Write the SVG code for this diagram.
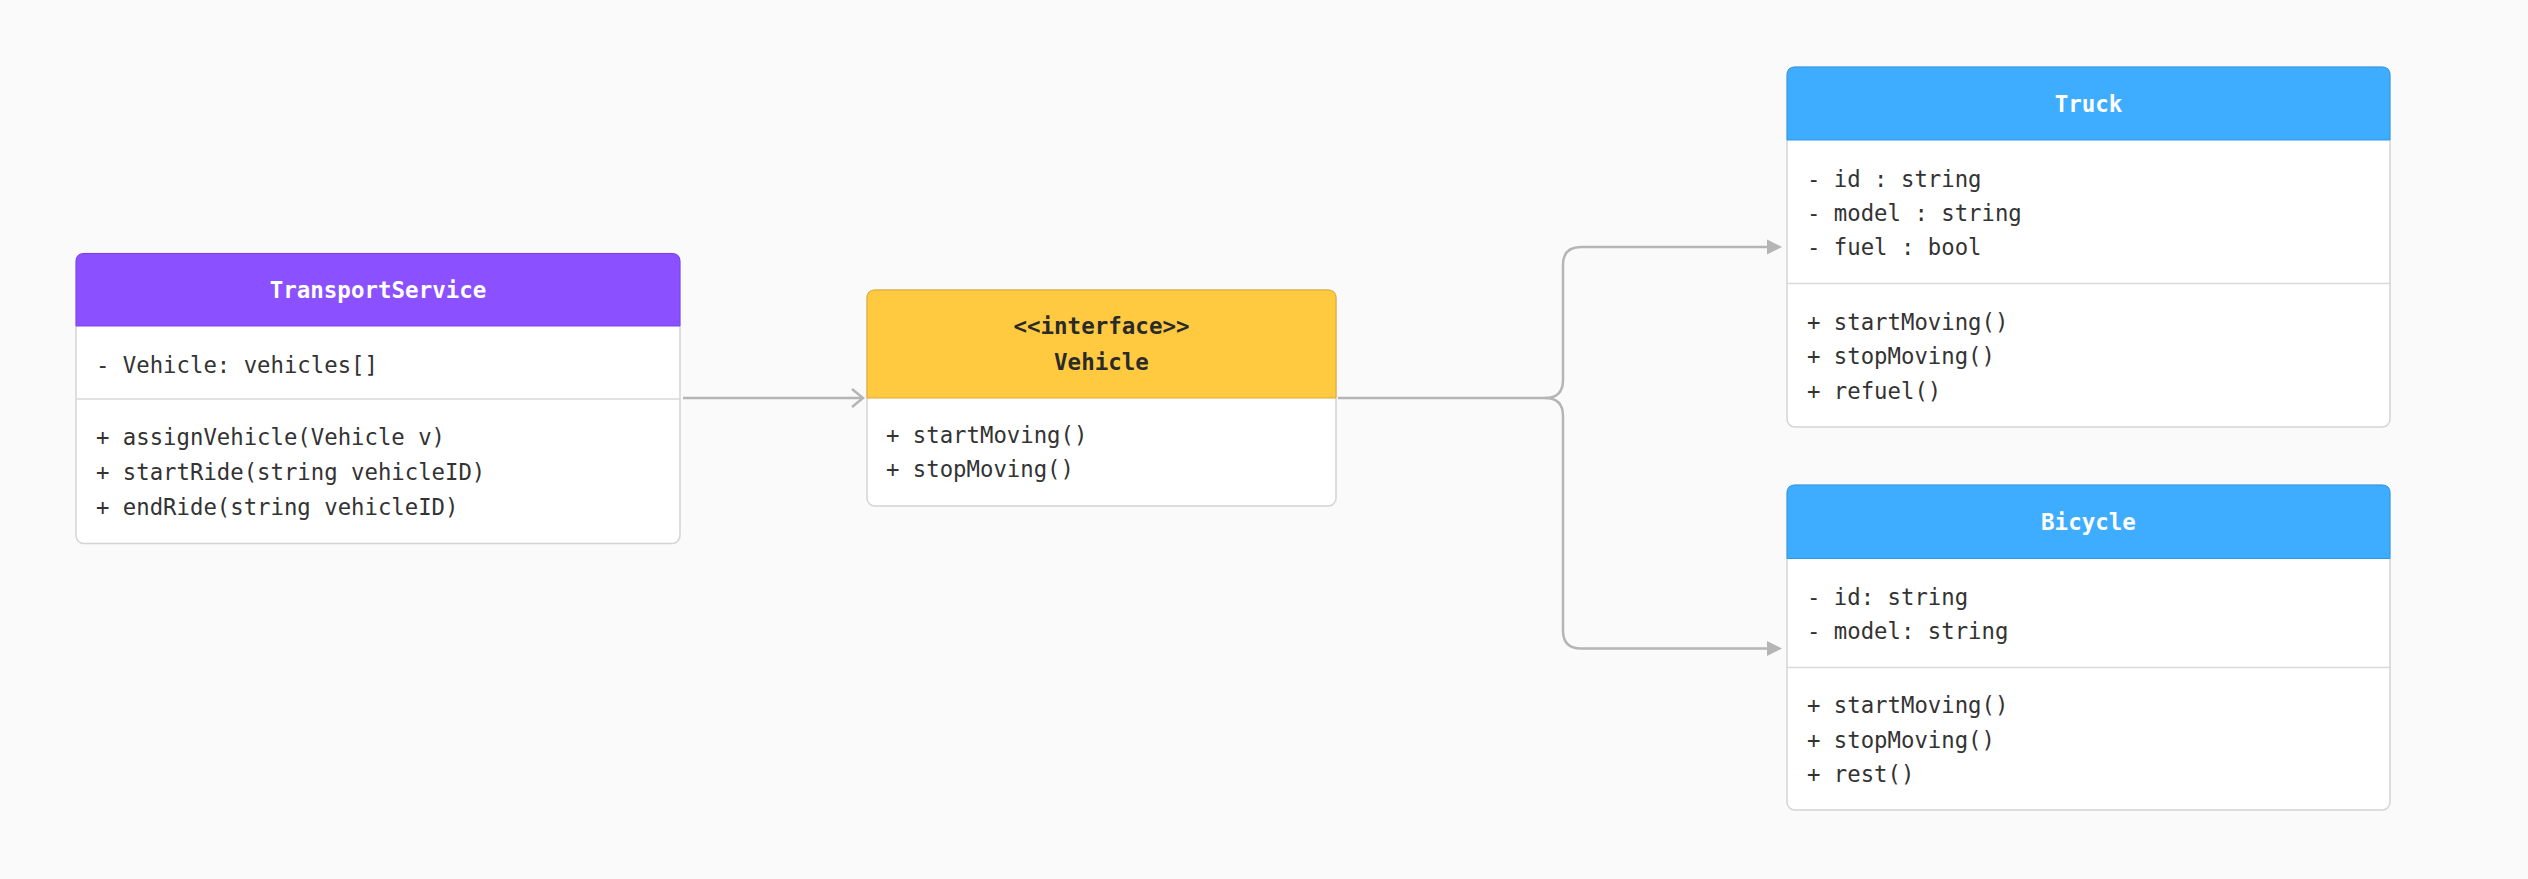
<svg xmlns="http://www.w3.org/2000/svg" width="2528" height="879" viewBox="0 0 2528 879">
  <defs>
    <style>
      .box { fill: #ffffff; stroke: #d4d4d4; stroke-width: 1.5; }
      .div { stroke: #d9d9d9; stroke-width: 1.5; }
      .hdr-purple { fill: #8b50ff; stroke: #7a40ee; stroke-width: 1; }
      .hdr-blue { fill: #3fadff; stroke: #2f97e8; stroke-width: 1; }
      .hdr-yellow { fill: #ffc940; stroke: #e0a730; stroke-width: 1; }
      .title { font-family: "DejaVu Sans Mono", "Liberation Mono", monospace; font-size: 22.5px; font-weight: bold; text-anchor: middle; }
      .light { fill: #ffffff; }
      .dark { fill: #2a2a2a; }
      .txt { font-family: "DejaVu Sans Mono", "Liberation Mono", monospace; font-size: 22.3px; fill: #333333; }
      .conn { fill: none; stroke: #b5b5b5; stroke-width: 2.5; }
    </style>
    <marker id="open" markerUnits="userSpaceOnUse" markerWidth="20" markerHeight="24" refX="12" refY="10" orient="auto" overflow="visible">
      <polyline points="1,1 12,10 1,19" fill="none" stroke="#b5b5b5" stroke-width="2.5"/>
    </marker>
    <marker id="filled" markerUnits="userSpaceOnUse" markerWidth="16" markerHeight="16" refX="0" refY="8" orient="auto" overflow="visible">
      <polygon points="0,0.5 15,8 0,15.5" fill="#b5b5b5"/>
    </marker>
  </defs>
  <rect width="2528" height="879" fill="#fafafa"/>

  <g id="connectors">
    <path class="conn" d="M683 398 H863" marker-end="url(#open)"/>
    <path class="conn" d="M1338 398 H1545 Q1563 398 1563 380 V265 Q1563 247 1581 247 H1767" marker-end="url(#filled)"/>
    <path class="conn" d="M1545 398 Q1563 398 1563 416 V630.5 Q1563 648.5 1581 648.5 H1767" marker-end="url(#filled)"/>
  </g>

  <g id="TransportService">
    <rect class="box" x="76" y="253.5" width="604" height="290" rx="8"/>
    <path class="hdr-purple" d="M76 326 V261.5 Q76 253.5 84 253.5 H672 Q680 253.5 680 261.5 V326 Z"/>
    <text class="title light" x="378" y="298">TransportService</text>
    <text class="txt" x="96" y="373">- Vehicle: vehicles[]</text>
    <line class="div" x1="76" y1="399" x2="680" y2="399"/>
    <text class="txt" x="96" y="445">+ assignVehicle(Vehicle v)</text>
    <text class="txt" x="96" y="480">+ startRide(string vehicleID)</text>
    <text class="txt" x="96" y="515">+ endRide(string vehicleID)</text>
  </g>

  <g id="Vehicle">
    <rect class="box" x="867" y="290" width="469" height="216" rx="8"/>
    <path class="hdr-yellow" d="M867 398 V298 Q867 290 875 290 H1328 Q1336 290 1336 298 V398 Z"/>
    <text class="title dark" x="1101.5" y="334">&lt;&lt;interface&gt;&gt;</text>
    <text class="title dark" x="1101.5" y="370">Vehicle</text>
    <text class="txt" x="886" y="443">+ startMoving()</text>
    <text class="txt" x="886" y="477">+ stopMoving()</text>
  </g>

  <g id="Truck">
    <rect class="box" x="1787" y="67" width="603" height="360" rx="8"/>
    <path class="hdr-blue" d="M1787 140 V75 Q1787 67 1795 67 H2382 Q2390 67 2390 75 V140 Z"/>
    <text class="title light" x="2088.5" y="112">Truck</text>
    <text class="txt" x="1807" y="187">- id : string</text>
    <text class="txt" x="1807" y="221">- model : string</text>
    <text class="txt" x="1807" y="255">- fuel : bool</text>
    <line class="div" x1="1787" y1="283.5" x2="2390" y2="283.5"/>
    <text class="txt" x="1807" y="330">+ startMoving()</text>
    <text class="txt" x="1807" y="364">+ stopMoving()</text>
    <text class="txt" x="1807" y="399">+ refuel()</text>
  </g>

  <g id="Bicycle">
    <rect class="box" x="1787" y="485" width="603" height="325" rx="8"/>
    <path class="hdr-blue" d="M1787 558.5 V493 Q1787 485 1795 485 H2382 Q2390 485 2390 493 V558.5 Z"/>
    <text class="title light" x="2088.5" y="530">Bicycle</text>
    <text class="txt" x="1807" y="605">- id: string</text>
    <text class="txt" x="1807" y="639">- model: string</text>
    <line class="div" x1="1787" y1="667.5" x2="2390" y2="667.5"/>
    <text class="txt" x="1807" y="713">+ startMoving()</text>
    <text class="txt" x="1807" y="748">+ stopMoving()</text>
    <text class="txt" x="1807" y="782">+ rest()</text>
  </g>
</svg>
